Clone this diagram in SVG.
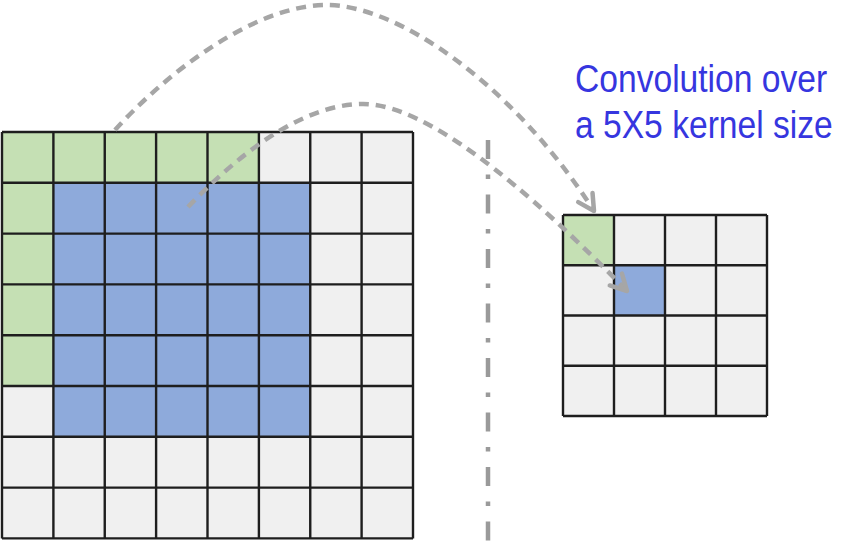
<svg xmlns="http://www.w3.org/2000/svg" width="850" height="547" viewBox="0 0 850 547">
<style>
.bg{fill:#f0f0f0}
.g{fill:#c5e0b4}
.b{fill:#8eaadb}
.lines{fill:none;stroke:#1e1e1e;stroke-width:2.4}
.arrow{fill:none;stroke:#a6a6a6;stroke-width:4.5;stroke-dasharray:10 7}
.axis{fill:none;stroke:#9a9a9a;stroke-width:4.5;stroke-dasharray:19 15.5 4.5 15.5}
.lbl{font-family:"Liberation Sans",Arial,sans-serif;font-size:39px;fill:#3636df}
</style>
<defs>
<marker id="head" markerUnits="userSpaceOnUse" markerWidth="40" markerHeight="40" viewBox="-20 -20 40 40" refX="0" refY="0" orient="auto">
<path d="M-16,-8.5 L0,0 L-16,8.5" fill="none" stroke="#a6a6a6" stroke-width="4.5" stroke-linecap="round" stroke-linejoin="round"/>
</marker>
</defs>
<rect width="850" height="547" fill="#ffffff"/>
<g id="input-grid">
<rect class="bg" x="2" y="132" width="411" height="406.4"/>
<rect class="g" x="2" y="132" width="256.9" height="50.8"/>
<rect class="g" x="2" y="132" width="51.4" height="254"/>
<rect class="b" x="53.4" y="182.8" width="256.85" height="254"/>
<path class="lines" d="M2,132V538.4M53.4,132V538.4M104.75,132V538.4M156.1,132V538.4M207.5,132V538.4M258.9,132V538.4M310.25,132V538.4M361.6,132V538.4M413,132V538.4M2,132H413M2,182.8H413M2,233.6H413M2,284.4H413M2,335.2H413M2,386H413M2,436.8H413M2,487.6H413M2,538.4H413"/>
</g>
<g id="output-grid">
<rect class="bg" x="563" y="215" width="204" height="201"/>
<rect class="g" x="563" y="215" width="51" height="50.25"/>
<rect class="b" x="614" y="265.25" width="51" height="50.25"/>
<path class="lines" d="M563,215V416M614,215V416M665,215V416M716,215V416M767,215V416M563,215H767M563,265.25H767M563,315.5H767M563,365.75H767M563,416H767"/>
</g>
<g id="divider">
<path class="axis" d="M488,140V546"/>
</g>
<g id="label" transform="translate(575,0) scale(0.862,1)">
<text class="lbl" x="0" y="92">Convolution over</text>
<text class="lbl" x="0" y="138">a 5X5 kernel size</text>
</g>
<g id="connectors">
<path class="arrow" d="M115,130 C160,80 250,5 327,5 C395,5 510,80 594,211" marker-end="url(#head)"/>
<path class="arrow" d="M188,207 C235,158 300,104 363,104 C410,104 490,150 627,291" marker-end="url(#head)"/>
</g>
</svg>
